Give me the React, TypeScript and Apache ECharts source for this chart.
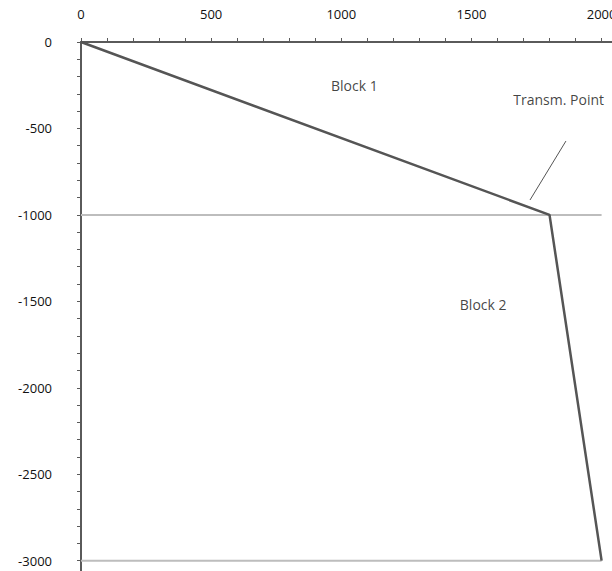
import React, { useEffect, useRef } from "react";
import * as echarts from "echarts";

// Depth profile (x: offset, y: depth)
const curveX = [0, 1800, 2000];
const curveY = [0, -1000, -3000];

// Block boundaries (horizontal lines)
const boundaryDepths = [-1000, -3000];
const boundaryXs = [0, 2000];

// Annotations
const annotationNames = ["Block 1", "Block 2", "Transm. Point"];
const annotationX = [1050, 1545, 1835];
const annotationY = [-250, -1520, -330];

// Leader line pointing at the transmission point
const leaderX = [1725, 1863];
const leaderY = [-914, -573];

// Axis ticks and labels
const xTicks = [0, 100, 200, 300, 400, 500, 600, 700, 800, 900, 1000, 1100, 1200, 1300, 1400, 1500, 1600, 1700, 1800, 1900, 2000];
const xLabels = [0, 500, 1000, 1500, 2000];
const yTicks = [0, -100, -200, -300, -400, -500, -600, -700, -800, -900, -1000, -1100, -1200, -1300, -1400, -1500, -1600, -1700, -1800, -1900, -2000, -2100, -2200, -2300, -2400, -2500, -2600, -2700, -2800, -2900, -3000];
const yLabels = [0, -500, -1000, -1500, -2000, -2500, -3000];

const FONT = "'Open Sans', 'Noto Sans', sans-serif";

export default function App() {
  const ref = useRef<HTMLDivElement>(null);

  useEffect(() => {
    document.body.style.margin = "0";
    if (!ref.current) return;
    const chart = echarts.init(ref.current, null, { renderer: "svg" });

    const curveData = curveX.map((x, i) => [x, curveY[i]]);
    const leaderData = leaderX.map((x, i) => [x, leaderY[i]]);
    const boundarySeries = boundaryDepths.map((d) => ({
      type: "line",
      data: boundaryXs.map((x) => [x, d]),
      showSymbol: false,
      silent: true,
      lineStyle: { color: "#bdbdbd", width: 2 },
      z: 1,
    }));

    chart.setOption({
      animation: false,
      grid: { left: 81, right: 0, top: 42, bottom: 0, containLabel: false, outerBoundsMode: "none" },
      xAxis: {
        type: "value",
        position: "top",
        min: 0,
        max: 2040,
        axisLine: { show: true, onZero: false, lineStyle: { color: "#5a5a5a", width: 2 } },
        axisTick: { show: true, inside: false, length: 4, customValues: xTicks, lineStyle: { color: "#5a5a5a", width: 1 } },
        axisLabel: {
          customValues: xLabels,
          margin: 22,
          fontSize: 13,
          color: "#111",
          fontFamily: FONT,
          formatter: (v: number) => String(v),
          showMaxLabel: true,
          hideOverlap: false,
        },
        splitLine: { show: false },
      },
      yAxis: {
        type: "value",
        min: -3060,
        max: 0,
        axisLine: { show: true, onZero: false, lineStyle: { color: "#5a5a5a", width: 2 } },
        axisTick: { show: true, inside: false, length: 4, customValues: yTicks, lineStyle: { color: "#5a5a5a", width: 1 } },
        axisLabel: {
          customValues: yLabels,
          margin: 29,
          fontSize: 13,
          color: "#111",
          fontFamily: FONT,
          formatter: (v: number) => String(v),
        },
        splitLine: { show: false },
      },
      series: [
        ...boundarySeries,
        {
          type: "line",
          data: curveData,
          showSymbol: false,
          silent: true,
          lineStyle: { color: "#555", width: 2.5 },
          z: 3,
        },
        {
          type: "line",
          data: leaderData,
          showSymbol: false,
          silent: true,
          lineStyle: { color: "#555", width: 1 },
          z: 3,
        },
        {
          type: "scatter",
          symbolSize: 0,
          silent: true,
          data: annotationNames.map((n, i) => ({ name: n, value: [annotationX[i], annotationY[i]] })),
          label: {
            show: true,
            position: "inside",
            formatter: "{b}",
            fontSize: 14,
            color: "#111",
            fontFamily: FONT,
          },
          z: 4,
        },
      ],
    });

    return () => chart.dispose();
  }, []);

  return <div ref={ref} style={{ width: 612, height: 571, position: "absolute", left: 0, top: 0 }} />;
}
